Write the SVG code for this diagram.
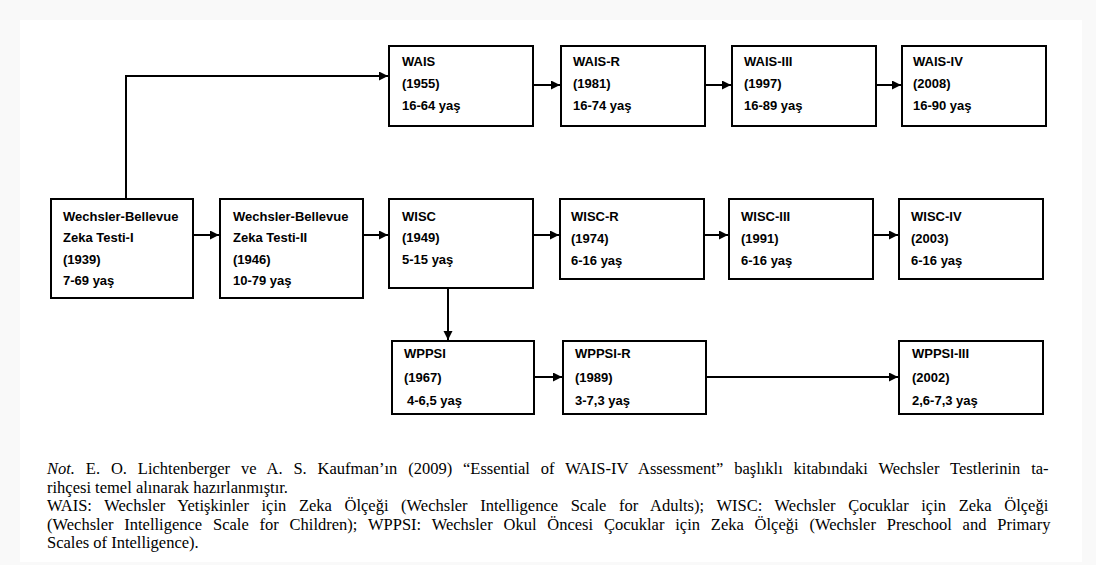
<svg xmlns="http://www.w3.org/2000/svg" width="1096" height="565" viewBox="0 0 1096 565">
<defs>
<style>
.bg{fill:#f9f9f9}
.page{fill:#ffffff}
.box{fill:#ffffff;stroke:#000;stroke-width:2}
.t{font-family:"Liberation Sans",Arial,sans-serif;font-weight:bold;font-size:13px;fill:#000}
.c{fill:none;stroke:#000;stroke-width:2}
.note{font-family:"Liberation Serif","Times New Roman",serif;font-size:16.5px;fill:#000}
</style>
<marker id="ah" markerUnits="userSpaceOnUse" markerWidth="10" markerHeight="10" refX="9" refY="4.5" orient="auto">
<path d="M0,0 L9,4.5 L0,9 Z" fill="#000"/>
</marker>
</defs>
<rect class="bg" x="0" y="0" width="1096" height="565"/>
<rect class="page" x="20" y="20" width="1062" height="542"/>

<g id="connectors">
<polyline class="c" points="126,199 126,76 388,76" marker-end="url(#ah)"/>
<line class="c" x1="533" y1="85" x2="560" y2="85" marker-end="url(#ah)"/>
<line class="c" x1="705" y1="85" x2="731" y2="85" marker-end="url(#ah)"/>
<line class="c" x1="876" y1="85" x2="901" y2="85" marker-end="url(#ah)"/>
<line class="c" x1="193" y1="235" x2="219" y2="235" marker-end="url(#ah)"/>
<line class="c" x1="363" y1="235" x2="388" y2="235" marker-end="url(#ah)"/>
<line class="c" x1="533" y1="235" x2="559" y2="235" marker-end="url(#ah)"/>
<line class="c" x1="704" y1="235" x2="728" y2="235" marker-end="url(#ah)"/>
<line class="c" x1="873" y1="235" x2="898" y2="235" marker-end="url(#ah)"/>
<line class="c" x1="448" y1="288" x2="448" y2="340" marker-end="url(#ah)"/>
<line class="c" x1="534" y1="377" x2="562" y2="377" marker-end="url(#ah)"/>
<line class="c" x1="706" y1="377" x2="898" y2="377" marker-end="url(#ah)"/>
</g>

<g id="wais">
<rect class="box" x="389" y="46" width="144" height="80"/>
<text class="t" x="402" y="66">WAIS</text>
<text class="t" x="402" y="88">(1955)</text>
<text class="t" x="402" y="110">16-64 yaş</text>
</g>
<g id="wais-r">
<rect class="box" x="561" y="46" width="144" height="80"/>
<text class="t" x="573" y="66">WAIS-R</text>
<text class="t" x="573" y="88">(1981)</text>
<text class="t" x="573" y="110">16-74 yaş</text>
</g>
<g id="wais-iii">
<rect class="box" x="732" y="46" width="144" height="80"/>
<text class="t" x="744" y="66">WAIS-III</text>
<text class="t" x="744" y="88">(1997)</text>
<text class="t" x="744" y="110">16-89 yaş</text>
</g>
<g id="wais-iv">
<rect class="box" x="902" y="46" width="144" height="80"/>
<text class="t" x="913" y="66">WAIS-IV</text>
<text class="t" x="913" y="88">(2008)</text>
<text class="t" x="913" y="110">16-90 yaş</text>
</g>

<g id="wb-i">
<rect class="box" x="51" y="199" width="142" height="99"/>
<text class="t" x="63" y="221">Wechsler-Bellevue</text>
<text class="t" x="63" y="242">Zeka Testi-I</text>
<text class="t" x="63" y="264">(1939)</text>
<text class="t" x="63" y="285">7-69 yaş</text>
</g>
<g id="wb-ii">
<rect class="box" x="220" y="199" width="143" height="99"/>
<text class="t" x="233" y="221">Wechsler-Bellevue</text>
<text class="t" x="233" y="242">Zeka Testi-II</text>
<text class="t" x="233" y="264">(1946)</text>
<text class="t" x="233" y="285">10-79 yaş</text>
</g>
<g id="wisc">
<rect class="box" x="389" y="199" width="144" height="89"/>
<text class="t" x="402" y="221">WISC</text>
<text class="t" x="402" y="242">(1949)</text>
<text class="t" x="402" y="264">5-15 yaş</text>
</g>
<g id="wisc-r">
<rect class="box" x="560" y="199" width="144" height="80"/>
<text class="t" x="571" y="221">WISC-R</text>
<text class="t" x="571" y="243">(1974)</text>
<text class="t" x="571" y="265">6-16 yaş</text>
</g>
<g id="wisc-iii">
<rect class="box" x="729" y="199" width="144" height="80"/>
<text class="t" x="741" y="221">WISC-III</text>
<text class="t" x="741" y="243">(1991)</text>
<text class="t" x="741" y="265">6-16 yaş</text>
</g>
<g id="wisc-iv">
<rect class="box" x="899" y="199" width="144" height="80"/>
<text class="t" x="911" y="221">WISC-IV</text>
<text class="t" x="911" y="243">(2003)</text>
<text class="t" x="911" y="265">6-16 yaş</text>
</g>

<g id="wppsi">
<rect class="box" x="392" y="341" width="142" height="73"/>
<text class="t" x="404" y="358">WPPSI</text>
<text class="t" x="404" y="382">(1967)</text>
<text class="t" x="407" y="405">4-6,5 yaş</text>
</g>
<g id="wppsi-r">
<rect class="box" x="563" y="341" width="143" height="73"/>
<text class="t" x="575" y="358">WPPSI-R</text>
<text class="t" x="575" y="382">(1989)</text>
<text class="t" x="575" y="405">3-7,3 yaş</text>
</g>
<g id="wppsi-iii">
<rect class="box" x="899" y="341" width="144" height="73"/>
<text class="t" x="912" y="358">WPPSI-III</text>
<text class="t" x="912" y="382">(2002)</text>
<text class="t" x="912" y="405">2,6-7,3 yaş</text>
</g>

<g id="note">
<text class="note" x="47" y="474" word-spacing="6.75"><tspan font-style="italic">Not.</tspan> E. O. Lichtenberger ve A. S. Kaufman’ın (2009) “Essential of WAIS-IV Assessment” başlıklı kitabındaki Wechsler Testlerinin ta-</text>
<text class="note" x="47" y="492.5">rihçesi temel alınarak hazırlanmıştır.</text>
<text class="note" x="47" y="511" word-spacing="8.5">WAIS: Wechsler Yetişkinler için Zeka Ölçeği (Wechsler Intelligence Scale for Adults); WISC: Wechsler Çocuklar için Zeka Ölçeği</text>
<text class="note" x="47" y="529.5" word-spacing="6.7">(Wechsler Intelligence Scale for Children); WPPSI: Wechsler Okul Öncesi Çocuklar için Zeka Ölçeği (Wechsler Preschool and Primary</text>
<text class="note" x="47" y="548">Scales of Intelligence).</text>
</g>
</svg>
